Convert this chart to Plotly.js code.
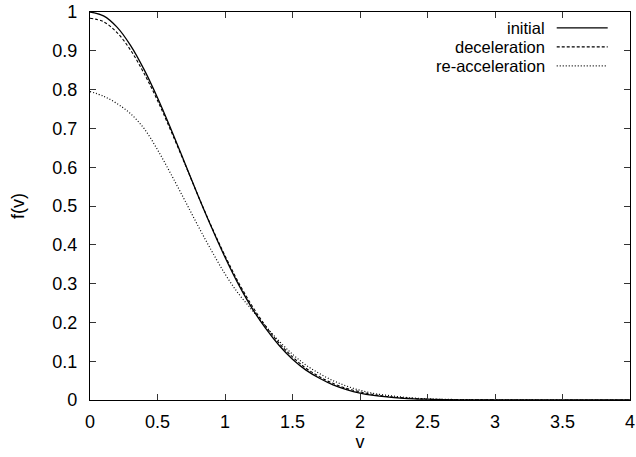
<!DOCTYPE html>
<html>
<head>
<meta charset="utf-8">
<script src="https://cdn.plot.ly/plotly-3.0.1.min.js"></script>
<style>html,body{margin:0;padding:0;background:#fff;}#plot{width:636px;height:457px;}</style>
</head>
<body>
<div id="plot"></div>
<script>
const v = [0,0.1,0.2,0.3,0.4,0.5,0.6,0.7,0.8,0.9,1.0,1.1,1.2,1.3,1.4,1.5,1.6,1.7,1.8,1.9,2.0,2.1,2.2,2.3,2.4,2.5,2.6,2.8,3.0,3.5,4.0];
const initial = [1,0.990,0.961,0.914,0.852,0.779,0.698,0.613,0.527,0.445,0.368,0.298,0.237,0.185,0.141,0.105,0.077,0.056,0.039,0.027,0.018,0.012,0.008,0.005,0.003,0.002,0.001,0.0004,0.0001,0,0];
const deceleration = [0.984,0.975,0.947,0.902,0.842,0.772,0.693,0.611,0.527,0.447,0.372,0.303,0.243,0.191,0.147,0.111,0.082,0.060,0.043,0.030,0.021,0.014,0.009,0.006,0.004,0.002,0.0015,0.0006,0.0002,0,0];
const reacceleration = [0.795,0.783,0.764,0.738,0.700,0.645,0.582,0.516,0.449,0.385,0.325,0.274,0.232,0.190,0.152,0.118,0.090,0.068,0.050,0.036,0.025,0.017,0.012,0.008,0.005,0.003,0.002,0.0008,0.0003,0,0];
const seriesNames = ["initial","deceleration","re-acceleration"];
const xTicks = [0,0.5,1,1.5,2,2.5,3,3.5,4];
const yTicks = [0,0.1,0.2,0.3,0.4,0.5,0.6,0.7,0.8,0.9,1];

const font = "Liberation Sans, Arial, Helvetica, sans-serif";
const fs = 18;
const legFs = 16.5;
const dashes = ["solid","3px,2px","1px,2px"];
const widths = [1.3,1.1,1.2];
const ys = [initial, deceleration, reacceleration];

const traces = ys.map((y,i)=>({
  x: v, y: y, type: "scatter", mode: "lines", name: seriesNames[i],
  line: {color: "#000", width: widths[i], dash: dashes[i], shape: "spline", smoothing: 1},
  showlegend: false, hoverinfo: "skip"
}));

const legY = [0.959, 0.910, 0.861];
const annotations = seriesNames.map((n,i)=>({
  xref: "paper", yref: "paper", x: 0.8439, y: legY[i], xanchor: "right", yanchor: "middle",
  text: n, showarrow: false, borderpad: 0,
  font: {family: font, size: legFs, color: "#000"}
}));
const shapes = seriesNames.map((n,i)=>({
  type: "line", xref: "paper", yref: "paper", x0: 0.8643, x1: 0.9587, y0: legY[i], y1: legY[i],
  line: {color: "#000", width: widths[i], dash: dashes[i]}
}));

const axisCommon = {
  showgrid: false, zeroline: false, showline: true, linecolor: "#000", linewidth: 1.2,
  mirror: "allticks", ticks: "inside", ticklen: 6, tickcolor: "#333", tickwidth: 1,
  tickfont: {family: font, size: fs, color: "#000"}
};

const layout = {
  width: 636, height: 457,
  margin: {l: 90, r: 6, t: 12, b: 57},
  paper_bgcolor: "#fff", plot_bgcolor: "#fff",
  font: {family: font, color: "#000"},
  xaxis: Object.assign({}, axisCommon, {
    range: [0, 4], tickvals: xTicks, ticktext: xTicks.map(String),
    ticklabelstandoff: 5,
    title: {text: "v", font: {family: font, size: fs, color: "#000"}, standoff: 4}
  }),
  yaxis: Object.assign({}, axisCommon, {
    range: [0, 1], tickvals: yTicks, ticktext: yTicks.map(String),
    ticklabelstandoff: 8,
    title: {text: "f(v)", font: {family: font, size: fs, color: "#000"}, standoff: 22}
  }),
  annotations: annotations,
  shapes: shapes
};

Plotly.newPlot("plot", traces, layout, {staticPlot: true, displayModeBar: false});
</script>
</body>
</html>
